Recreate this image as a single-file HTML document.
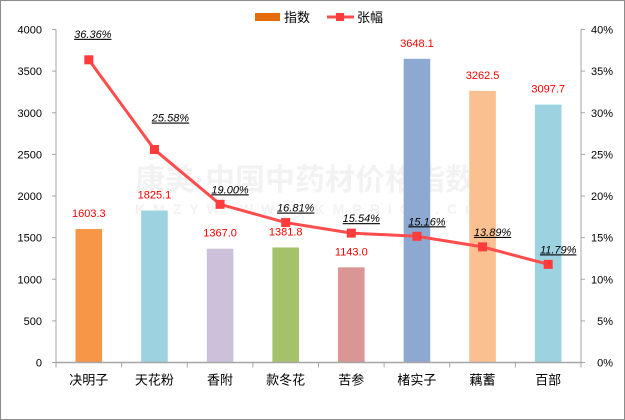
<!DOCTYPE html>
<html><head><meta charset="utf-8"><style>
body{margin:0;background:#fff}
svg{display:block;font-family:"Liberation Sans","Noto Sans CJK SC",sans-serif}
</style></head><body>
<svg id="c" width="625" height="420">
<rect x="0.5" y="0.5" width="624" height="419" fill="#fff" stroke="#8c8c8c"/>
<text x="135" y="190" font-size="30" font-weight="bold" fill="#000" fill-opacity="0.05">康美·中国中药材价格指数</text>
<text x="135" y="214" font-size="14" font-weight="bold" fill="#000" fill-opacity="0.05" letter-spacing="8">KMZYW WWW.KMPRICE.COM</text>
<g>
<rect x="255" y="13" width="25" height="8" fill="#E36C09"/>
<text x="284" y="22" font-size="13">指数</text>
<line x1="327" y1="17" x2="354" y2="17" stroke="#FF4D4D" stroke-width="3"/>
<rect x="336" y="13" width="8" height="8" fill="#FF3B3B"/>
<text x="357" y="22" font-size="13">张幅</text>
</g>
</svg>
<script>
const categories=["决明子","天花粉","香附","款冬花","苦参","楮实子","藕蓄","百部"];
const indexValues=[1603.3,1825.1,1367.0,1381.8,1143.0,3648.1,3262.5,3097.7];
const changeValues=[36.36,25.58,19.00,16.81,15.54,15.16,13.89,11.79];
const leftTicks=[0,500,1000,1500,2000,2500,3000,3500,4000];
const rightTicks=[0,5,10,15,20,25,30,35,40];
const barColors=["#F79646","#9DD3E1","#CCC0DA","#A5C26A","#D99694","#8EA9D1","#FAC090","#9DD3E1"];
const svg=document.getElementById('c');
const NS="http://www.w3.org/2000/svg";
const X0=56,X1=581,Y0=362.5,YT=29.5;
const bw=(X1-X0)/categories.length;
const xc=i=>X0+bw*(i+0.5);
const yL=v=>Y0-(v/4000)*(Y0-YT);
const yR=v=>Y0-(v/40)*(Y0-YT);
function mk(t,a,txt){const e=document.createElementNS(NS,t);for(const k in a)e.setAttribute(k,a[k]);if(txt!==undefined)e.textContent=txt;svg.appendChild(e);return e;}
let e;
e=mk('line',{x1:X0,y1:YT,x2:X0,y2:Y0,stroke:'#A6A6A6'});


e=mk('line',{x1:X1,y1:YT,x2:X1,y2:Y0,stroke:'#A6A6A6'});


leftTicks.forEach(v=>{
 mk('line',{x1:X0-4,y1:yL(v),x2:X0,y2:yL(v),stroke:'#A6A6A6'});
 e=mk('text',{x:X0-14,y:yL(v)+4,'font-size':11,'text-anchor':'end'},String(v));
 
 
});
rightTicks.forEach(v=>{
 mk('line',{x1:X1,y1:yR(v),x2:X1+4,y2:yR(v),stroke:'#A6A6A6'});
 e=mk('text',{x:X1+32,y:yR(v)+4,'font-size':11,'text-anchor':'end'},v+'%');
 
 
});
indexValues.forEach((v,i)=>{
 e=mk('rect',{x:xc(i)-13.3,y:yL(v),width:26.6,height:Y0-yL(v),fill:barColors[i]});
 
 
 e=mk('text',{x:xc(i),y:yL(v)-12,'font-size':11,'text-anchor':'middle',fill:'#FF0000'},v.toFixed(1));
 
 
});
e=mk('line',{x1:X0,y1:Y0,x2:X1,y2:Y0,stroke:'#A6A6A6',"stroke-width":1.5});


categories.forEach((c,i)=>{
 mk('line',{x1:X0+bw*i,y1:Y0,x2:X0+bw*i,y2:Y0+5,stroke:'#A6A6A6'});
 e=mk('text',{x:xc(i),y:Y0+22,'font-size':13,'text-anchor':'middle'},c);
 
 
});
mk('line',{x1:X1,y1:Y0,x2:X1,y2:Y0+5,stroke:'#A6A6A6'});
e=mk('polyline',{points:changeValues.map((v,i)=>xc(i)+','+yR(v)).join(' '),fill:'none',stroke:'#FF4D4D','stroke-width':3});


changeValues.forEach((v,i)=>{
 e=mk('rect',{x:xc(i)-4.5,y:yR(v)-4.5,width:9,height:9,fill:'#FF3B3B'});
 
 
 let dx=10,dy=-11;
 if(i===0){dx=4;dy=-22;} else if(i===1){dx=16;dy=-28;}
 e=mk('text',{x:xc(i)+dx,y:yR(v)+dy,'font-size':11,'font-style':'italic','text-anchor':'middle','text-decoration':'underline'},v.toFixed(2)+'%');
 
 
});
</script>
</body></html>
